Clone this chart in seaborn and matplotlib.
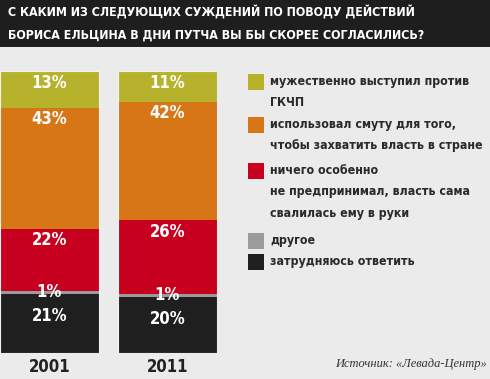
import matplotlib
matplotlib.use("Agg")
import matplotlib.pyplot as plt
from matplotlib import font_manager
from matplotlib.patches import Rectangle
import seaborn as sns
import numpy as np

# data
years = ["2001", "2011"]
answers = [
    "затрудняюсь ответить",
    "другое",
    "ничего особенно\nне предпринимал, власть сама\nсвалилась ему в руки",
    "использовал смуту для того,\nчтобы захватить власть в стране",
    "мужественно выступил против\nГКЧП",
]
hard_to_say = [21, 20]
other = [1, 1]
did_nothing = [22, 26]
seized_power = [43, 42]
opposed = [13, 11]
values = [hard_to_say, other, did_nothing, seized_power, opposed]
colors = ["#1f1f1f", "#9b9b9b", "#c7001f", "#d67617", "#b6b22b"]

title = ("С КАКИМ ИЗ СЛЕДУЮЩИХ СУЖДЕНИЙ ПО ПОВОДУ ДЕЙСТВИЙ\n"
         "БОРИСА ЕЛЬЦИНА В ДНИ ПУТЧА ВЫ БЫ СКОРЕЕ СОГЛАСИЛИСЬ?")
source = "Источник: «Левада-Центр»"

sns.set_theme(style="white")

# pick a narrow font if there is one
names = {f.name for f in font_manager.fontManager.ttflist}
cond = [f for f in font_manager.fontManager.ttflist
        if f.name == "DejaVu Sans" and f.stretch != "normal"]
if "Liberation Sans Narrow" in names:
    FONT, STRETCH = "Liberation Sans Narrow", "normal"
elif cond:
    FONT, STRETCH = "DejaVu Sans", "condensed"
else:
    FONT, STRETCH = "DejaVu Sans", "normal"
plt.rcParams["font.family"] = [FONT, "DejaVu Sans"]
plt.rcParams["font.stretch"] = STRETCH

W, H = 490, 379
BG = "#ebebeb"


def px(x0, y0, w, h):
    return [x0 / W, 1 - (y0 + h) / H, w / W, h / H]


fig = plt.figure(figsize=(W / 100, H / 100), dpi=100)
fig.patch.set_facecolor(BG)

# header band
fig.add_artist(Rectangle((0, 1 - 47 / H), 1, 47 / H, transform=fig.transFigure,
                         facecolor="#1e1e1e", edgecolor="none"))
fig.text(8 / W, 1 - 23.5 / H, title, color="white", fontsize=8.9, fontweight="bold",
         va="center", ha="left", linespacing=2.0)

# stacked bars: draw cumulative totals, tallest first
ax = fig.add_axes(px(0, 71, 217, 282))
bw = 99 / 118
cum = np.cumsum(np.array(values), axis=0)
for k in range(len(values) - 1, -1, -1):
    sns.barplot(x=years, y=cum[k], color=colors[k], saturation=1, width=bw,
                errorbar=None, ax=ax, linewidth=0)
# thin light outline round each bar
sns.barplot(x=years, y=cum[-1], fill=False, width=bw, errorbar=None, ax=ax,
            edgecolor="#f3f3f3", linewidth=0.8)
ax.set_xlim(-bw / 2, 1 + bw / 2)
ax.set_ylim(0, 100)
ax.axis("off")

# percent labels
drops = [7.8, None, 4.0, 4.0, 4.2]
for i in range(len(years)):
    for k in range(len(values)):
        top = cum[k][i]
        v = values[k][i]
        y = top - v / 2 if drops[k] is None else top - drops[k]
        ax.text(i, y, f"{v}%", color="white", fontsize=12, fontweight="bold",
                ha="center", va="center")
    ax.text(i, -5, years[i], color="#222222", fontsize=12, fontweight="bold",
            ha="center", va="center", clip_on=False)

# legend
leg_y = [82, 125, 171, 241, 262]
for k, y in zip(range(len(answers) - 1, -1, -1), leg_y):
    fig.add_artist(Rectangle((248 / W, 1 - (y + 8) / H), 16 / W, 16 / H,
                             transform=fig.transFigure, facecolor=colors[k],
                             edgecolor="none"))
    fig.text(270 / W, 1 - (y - 7) / H, answers[k], color="#2a2a2a", fontsize=8.9,
             fontweight="bold", ha="left", va="top", linespacing=1.85,
             transform=fig.transFigure)

fig.text(487 / W, 1 - 364 / H, source, color="#333333", fontsize=9,
         fontstyle="italic", family=["Liberation Serif", "DejaVu Serif"],
         ha="right", va="center")

fig.savefig("out.png", dpi=100, facecolor=BG)
